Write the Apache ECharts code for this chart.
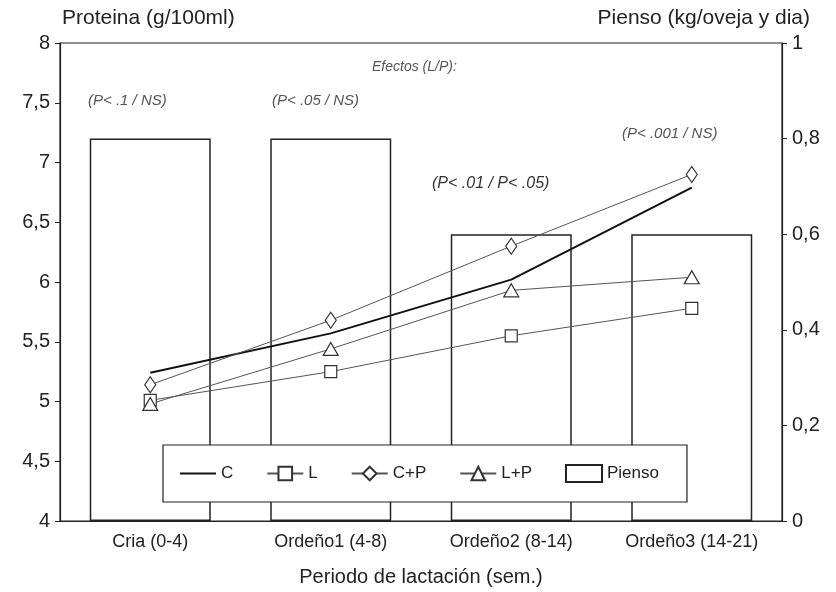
<!DOCTYPE html>
<html>
<head>
<meta charset="utf-8">
<script src="https://cdn.jsdelivr.net/npm/echarts@6/dist/echarts.min.js"></script>
<style>html,body{margin:0;padding:0;background:#fff}#c{width:836px;height:592px}</style>
</head>
<body>
<div id="c"></div>
<script>
var categories = ['Cria (0-4)', 'Ordeño1 (4-8)', 'Ordeño2 (8-14)', 'Ordeño3 (14-21)'];
var serieC  = [5.24, 5.57, 6.02, 6.79];
var serieL  = [5.01, 5.25, 5.55, 5.78];
var serieCP = [5.14, 5.68, 6.30, 6.90];
var serieLP = [4.98, 5.44, 5.93, 6.04];
var pienso  = [0.8, 0.8, 0.6, 0.6];
var efectos = ['(P< .1 / NS)', '(P< .05 / NS)', '(P< .01 / P< .05)', '(P< .001 / NS)'];

var FONT = 'Liberation Sans';
var chart = echarts.init(document.getElementById('c'), null, {renderer: 'canvas'});
function comma(v){ return String(+v.toFixed(2)).replace('.', ','); }
var markerStyle = {color: '#fff', borderColor: '#333', borderWidth: 1.2};
var thinLine = {color: '#555', width: 1};

chart.setOption({
  backgroundColor: '#fff',
  animation: false,
  textStyle: {fontFamily: FONT},
  grid: {left: 60, right: 54, top: 43, bottom: 70, show: true, borderColor: '#222', borderWidth: 1.2, backgroundColor: 'transparent'},
  legend: {
    left: 163, top: 445, width: 524, height: 56,
    padding: [19, 28, 19, 16],
    itemGap: 33, itemWidth: 36, itemHeight: 17,
    backgroundColor: '#fff', borderColor: '#222', borderWidth: 1.2,
    textStyle: {fontFamily: FONT, fontSize: 17, color: '#222'},
    data: [
      {name: 'C', itemStyle: {color: 'transparent', borderWidth: 0}},
      'L', 'C+P', 'L+P',
      {name: 'Pienso', icon: 'rect'}
    ]
  },
  xAxis: {
    type: 'category', data: categories,
    axisLine: {lineStyle: {color: '#222', width: 1.2}},
    axisTick: {alignWithLabel: true, length: 6, lineStyle: {color: '#222'}},
    axisLabel: {fontFamily: FONT, fontSize: 18, color: '#222', margin: 12, interval: 0},
    name: 'Periodo de lactación (sem.)', nameLocation: 'middle', nameGap: 46,
    nameTextStyle: {fontFamily: FONT, fontSize: 20, color: '#222'}
  },
  yAxis: [{
    type: 'value', min: 4, max: 8, interval: 0.5,
    axisLine: {show: true, lineStyle: {color: '#222', width: 1.2}},
    axisTick: {show: true, length: 5, lineStyle: {color: '#222'}},
    splitLine: {show: false},
    axisLabel: {fontFamily: FONT, fontSize: 20, color: '#222', margin: 10, formatter: comma},
    name: 'Proteina (g/100ml)', nameLocation: 'end', nameGap: 14,
    nameTextStyle: {fontFamily: FONT, fontSize: 21, color: '#222', align: 'left', padding: [0, 0, 0, 2]}
  }, {
    type: 'value', min: 0, max: 1, interval: 0.2, position: 'right',
    axisLine: {show: true, lineStyle: {color: '#222', width: 1.2}},
    axisTick: {show: true, length: 5, lineStyle: {color: '#222'}},
    splitLine: {show: false},
    axisLabel: {fontFamily: FONT, fontSize: 20, color: '#222', margin: 10, formatter: comma},
    name: 'Pienso (kg/oveja y dia)', nameLocation: 'end', nameGap: 14,
    nameTextStyle: {fontFamily: FONT, fontSize: 21, color: '#222', align: 'right', padding: [0, -28, 0, 0]}
  }],
  series: [
    {name: 'Pienso', type: 'bar', yAxisIndex: 1, data: pienso, barWidth: 121, z: 1,
     itemStyle: {color: '#fff', borderColor: '#222', borderWidth: 1.5}},
    {name: 'C', type: 'line', data: serieC, symbol: 'none', z: 3,
     lineStyle: {color: '#111', width: 2}, itemStyle: {color: '#111'}},
    {name: 'L', type: 'line', data: serieL, symbol: 'rect', symbolSize: 12, z: 3,
     lineStyle: thinLine, itemStyle: markerStyle},
    {name: 'C+P', type: 'line', data: serieCP, symbol: 'diamond', symbolSize: [11, 16], z: 3,
     lineStyle: thinLine, itemStyle: markerStyle},
    {name: 'L+P', type: 'line', data: serieLP, symbol: 'triangle', symbolSize: [15, 13], z: 3,
     lineStyle: thinLine, itemStyle: markerStyle}
  ],
  graphic: [
    {type: 'text', left: 372, top: 60, style: {text: 'Efectos (L/P):', font: 'italic 14px "Liberation Sans"', fill: '#555'}},
    {type: 'text', left: 88, top: 93, style: {text: efectos[0], font: 'italic 15px "Liberation Sans"', fill: '#555'}},
    {type: 'text', left: 272, top: 93, style: {text: efectos[1], font: 'italic 15px "Liberation Sans"', fill: '#555'}},
    {type: 'text', left: 432, top: 176, style: {text: efectos[2], font: 'italic 16px "Liberation Sans"', fill: '#333'}},
    {type: 'text', left: 622, top: 126, style: {text: efectos[3], font: 'italic 15px "Liberation Sans"', fill: '#555'}}
  ]
});
</script>
</body>
</html>
